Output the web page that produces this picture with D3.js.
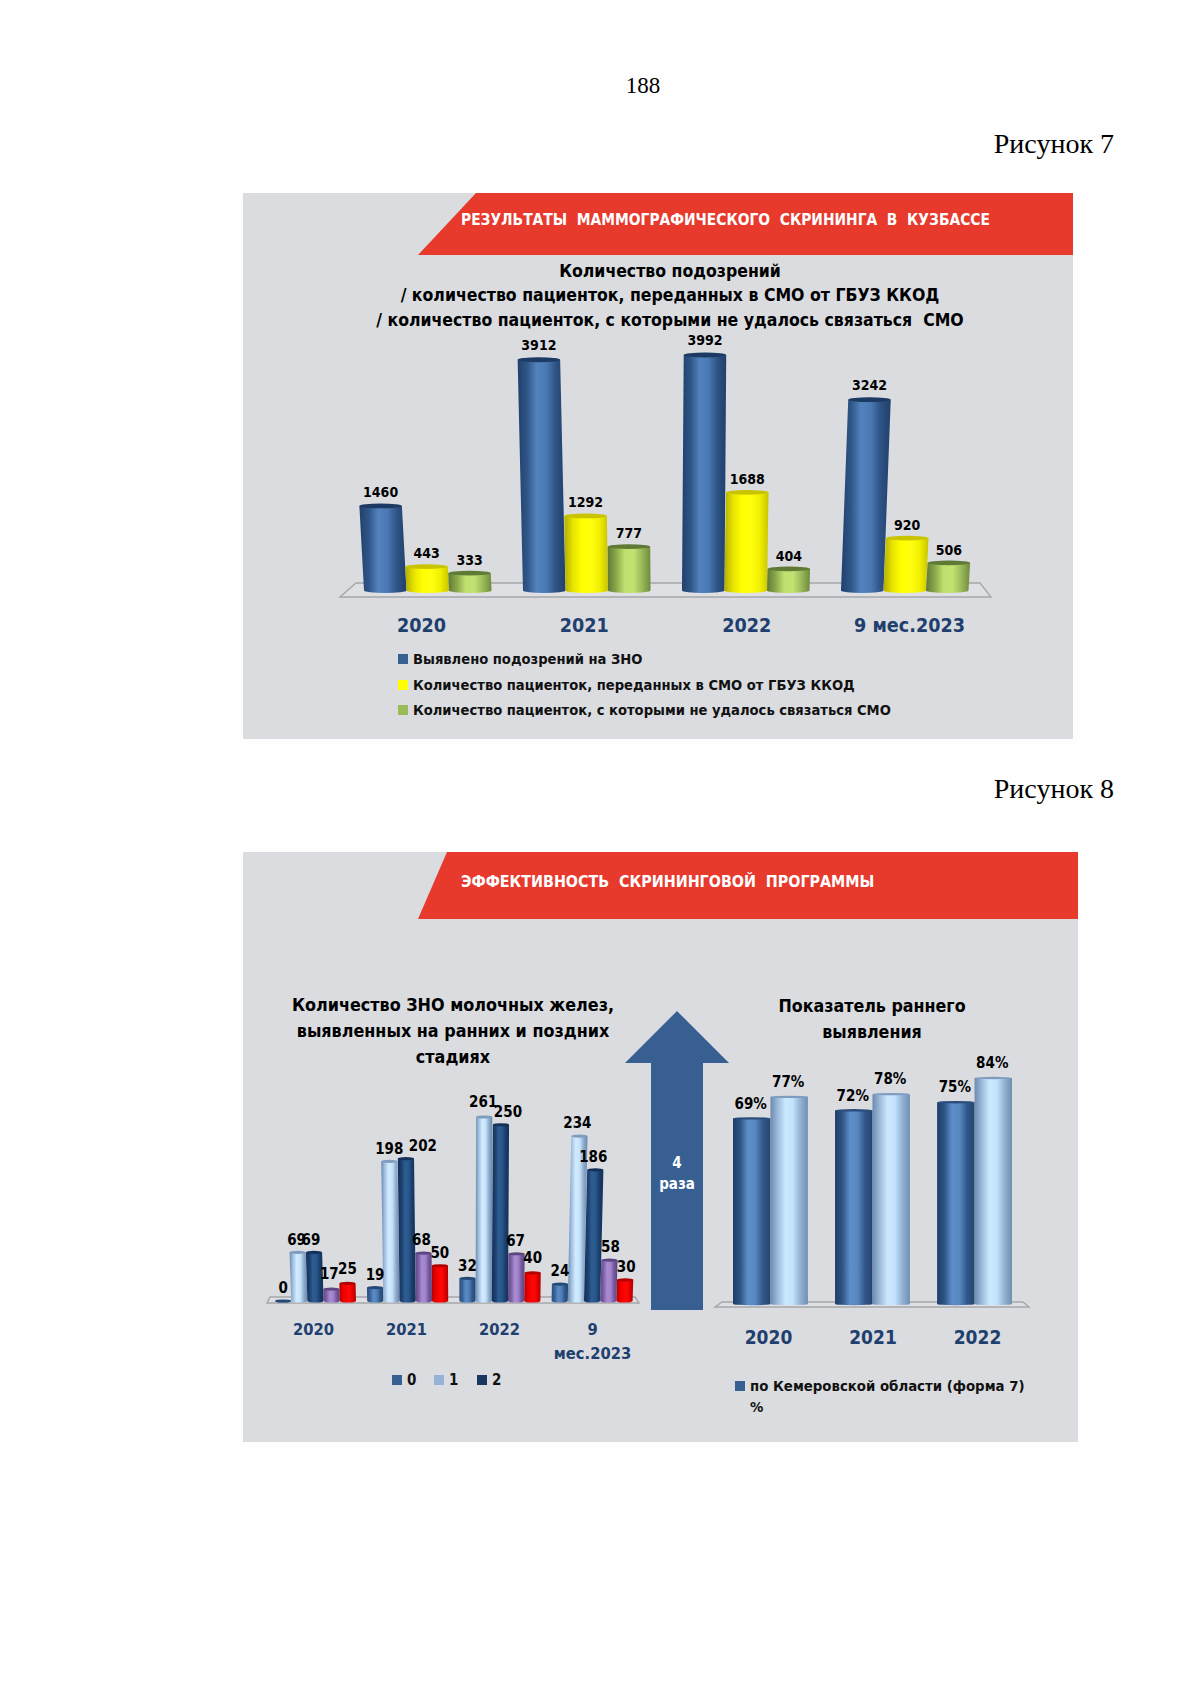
<!DOCTYPE html>
<html><head><meta charset="utf-8">
<script src="https://d3js.org/d3.v7.min.js"></script>
<style>html,body{margin:0;padding:0;background:#fefefe}svg{display:block}
.b{font-family:"DejaVu Sans Condensed","DejaVu Sans",sans-serif;font-stretch:condensed;font-weight:700}
.p{font-family:"Liberation Serif",serif}</style></head><body>
<svg id="s" width="1200" height="1697"></svg>
<script>
// ---- data ----
const catsA = ["2020","2021","2022","9 мес.2023"];
const suspected = [1460,3912,3992,3242];
const transferred = [443,1292,1688,920];
const unreached = [333,777,404,506];
const legendA = ["Выявлено подозрений на ЗНО","Количество пациенток, переданных в СМО от ГБУЗ ККОД","Количество пациенток, с которыми не удалось связаться СМО"];
const titleA = ["Количество подозрений","/ количество пациенток, переданных в СМО от ГБУЗ ККОД","/ количество пациенток, с которыми не удалось связаться  СМО"];

const stage0 = [0,19,32,24];
const stage1 = [69,198,261,234];
const stage2 = [69,202,250,186];
const stage3 = [17,68,67,58];
const stage4 = [25,50,40,30];
const legendB = ["0","1","2"];
const titleB = ["Количество ЗНО молочных желез,","выявленных на ранних и поздних","стадиях"];

const catsC = ["2020","2021","2022"];
const regional = [69,72,75];
const regionalPct = [77,78,84];
const titleC = ["Показатель раннего","выявления"];
const legendC = ["по Кемеровской области (форма 7)","%"];

// ---- helpers ----
const svg = d3.select("#s"), defs = svg.append("defs");
function grad(id, stops){
  const g = defs.append("linearGradient").attr("id",id).attr("x1",0).attr("x2",1).attr("y1",0).attr("y2",0);
  stops.forEach((c,i)=>g.append("stop").attr("offset",i/(stops.length-1)).attr("stop-color",c));
}
grad("gBlue",["#21406d","#2f5687","#5382bd","#4a78b2","#2d5284","#21406b"]);
grad("gYel",["#b3ad00","#e8e400","#ffff00","#ffff10","#f2ef00","#c9c400"]);
grad("gGrn",["#5f7a35","#8aa84a","#bfe06e","#c2e372","#9bb95a","#6e8a3c"]);
grad("gB0",["#2a4d7c","#3a659a","#5c8cc6","#4f7fb8","#30588a","#264772"]);
grad("gB1",["#6e8cb0","#a3c1e2","#d2ebff","#c6e3fb","#8faccd","#6a87aa"]);
grad("gB2",["#12305a","#1c3f6d","#2d5d93","#28578b","#1a3c69","#122f58"]);
grad("gB3",["#5c4681","#7e61a5","#a98bd2","#a184c9","#7558a0","#59437c"]);
grad("gB4",["#b00000","#e40000","#ff0000","#ff0808","#e00000","#b00000"]);
grad("gC0",["#1f3c67","#2f5586","#5e8ec8","#5887c0","#31578a","#25456f"]);
grad("gC1",["#6b8aae","#9dbbdc","#cbe8ff","#c3e2fc","#93b1d3","#6f8eb2"]);

function panel(x,y,w,h,bY,tx0,bx0,label){
  svg.append("rect").attr("x",x).attr("y",y).attr("width",w).attr("height",h).attr("fill","#dadce0");
  svg.append("path").attr("d",`M${tx0},${y}L${x+w},${y}L${x+w},${bY}L${bx0},${bY}Z`).attr("fill","#e8392d");
  svg.append("text").attr("class","b").attr("x",461).attr("y",(y+bY)/2-4).attr("dy","0.35em")
    .attr("fill","#fff").attr("font-size",label.size).attr("xml:space","preserve").text(label.text);
}
function lines(arr,cx,ys,size,fill="#000"){
  arr.forEach((t,i)=>svg.append("text").attr("class","b").attr("x",cx).attr("y",ys[i]).attr("dy","0.35em")
    .attr("text-anchor","middle").attr("fill",fill).attr("font-size",size).attr("xml:space","preserve").text(t));
}
function floor(xa,xb,xc,xd,yt,yb){
  svg.append("path").attr("d",`M${xa},${yb}L${xb},${yt}L${xc},${yt}L${xd},${yb}Z`)
   .attr("fill","#dfe0e4").attr("stroke","#a6a7aa").attr("stroke-width",1.4);
}
// cylinder: x = left at the base, w = width, y = top, base = bottom, shift = perspective offset of the top
function cyl(g,x,w,yTop,base,shift,fill,cap,ry){
  const tl=x+shift, tr=x+w+shift;
  g.append("path").attr("d",`M${tl},${yTop}L${x},${base}A${w/2},${ry} 0 0 0 ${x+w},${base}L${tr},${yTop}Z`).attr("fill",`url(#${fill})`);
  g.append("ellipse").attr("cx",(tl+tr)/2).attr("cy",yTop).attr("rx",w/2).attr("ry",ry).attr("fill",cap);
}
function catAxis(scale,y,size){
  const g = svg.append("g").attr("transform",`translate(0,${y})`).call(d3.axisBottom(scale).tickSize(0).tickPadding(0));
  g.select(".domain").remove();
  g.selectAll("text").attr("class","b").attr("fill","#1f3f6e").attr("font-size",size).attr("font-weight",700)
    .style("font-family",'"DejaVu Sans Condensed","DejaVu Sans",sans-serif').attr("y",0).attr("dy","0.35em");
  return g;
}
function legendItem(col,x,y,s,tx,text,size){
  if(col) svg.append("rect").attr("x",x).attr("y",y-s/2).attr("width",s).attr("height",s).attr("fill",col);
  svg.append("text").attr("class","b").attr("x",tx).attr("y",y).attr("dy","0.35em").attr("font-size",size).attr("fill","#111").text(text);
}
function dataLabel(x,y,t,size){
  svg.append("text").attr("class","b").attr("x",x).attr("y",y).attr("dy","0.35em").attr("text-anchor","middle")
    .attr("font-size",size).attr("fill","#000").text(t);
}

// ---- page ----
svg.append("text").attr("class","p").attr("x",643).attr("y",93).attr("text-anchor","middle").attr("font-size",23).attr("fill","#000").text("188");
[["Рисунок 7",153],["Рисунок 8",798]].forEach(d=>svg.append("text").attr("class","p").attr("x",1114).attr("y",d[1]).attr("text-anchor","end").attr("font-size",28).attr("fill","#000").text(d[0]));

// ---- figure 7 ----
panel(243,193,830,546,255,476,418,{text:"РЕЗУЛЬТАТЫ  МАММОГРАФИЧЕСКОГО  СКРИНИНГА  В  КУЗБАССЕ",size:15.4});
lines(titleA,670,[271,295,320],17.5);
floor(340,356,980,991,583,597);
{
  const seriesA=[suspected,transferred,unreached], fills=["gBlue","gYel","gGrn"], caps=["#1d3a63","#c9c400","#5f7a35"], legCols=["#376092","#ffff00","#9bbb59"];
  const x0=d3.scaleBand().domain(catsA).range([364,968.5]).paddingInner(0.198);
  const x1=d3.scaleBand().domain(d3.range(3)).range([0,x0.bandwidth()]);
  const y=d3.scaleLinear().domain([0,3992]).range([593,355]);
  const ry=2.4;
  const g=svg.append("g");
  catsA.forEach((c,i)=>seriesA.forEach((vals,s)=>{
    const bx=x0(c)+x1(s), v=vals[i], top=y(v), h=593-top, shift=(bx+x1.bandwidth()/2-665)*h*0.00019;
    cyl(g,bx,x1.bandwidth(),top,593-ry,shift,fills[s],caps[s],ry);
    dataLabel(bx+x1.bandwidth()/2+shift,top-13-h*0.006,v,14);
  }));
  catAxis(d3.scalePoint().domain(catsA).range([421,909]),625,19.6);
  legendA.forEach((t,i)=>legendItem(legCols[i],398,[659,685,710][i],10,413,t,14.6));
}

// ---- figure 8 ----
panel(243,852,835,590,919,447,418,{text:"ЭФФЕКТИВНОСТЬ  СКРИНИНГОВОЙ  ПРОГРАММЫ",size:15.9});
lines(titleB,453,[1005,1031,1057],17.8);
floor(267,270,635,639,1297,1303);
{
  const seriesB=[stage0,stage1,stage2,stage3,stage4];
  const fills=["gB0","gB1","gB2","gB3","gB4"], caps=["#264a78","#7f9cbf","#12305a","#5c4681","#b00000"], legCols=["#376092","#95b3d7","#17375e"];
  const x0=d3.scaleBand().domain(catsA).range([275,275+3*92.2+81]).paddingInner(1-81/92.2);
  const x1=d3.scaleBand().domain(d3.range(5)).range([0,x0.bandwidth()]);
  const y=d3.scaleLinear().domain([0,261]).range([1301,1117]);
  // label offsets [dx,dy] that the original applied to the crowded labels
  const nudge={"1-2":[17,0],"2-2":[7,0],"3-2":[-2,0],"0-1":[-1,0],"0-2":[-3,0],"0-3":[-2,-2],"0-4":[0,-2],"2-1":[-1,-2],"3-1":[-2,0],"1-3":[-2,0],"2-3":[-1,0],"3-3":[1,0],"2-4":[0,-2],"3-4":[1,0]};
  const g=svg.append("g");
  catsA.forEach((c,i)=>seriesB.forEach((vals,s)=>{
    const bx=x0(c)+x1(s), v=vals[i], top=y(v), h=1301-top, shift=(bx+8-470)*h*0.0002;
    cyl(g,bx,x1.bandwidth(),top,1301,shift,fills[s],caps[s],1.6);
    const n=nudge[i+"-"+s]||[0,0];
    dataLabel(bx+x1.bandwidth()/2+shift+n[0],top-13+n[1],v,15);
  }));
  const ax=catAxis(d3.scalePoint().domain(catsA).range([313,592]),1329,16.4);
  ax.selectAll("text").filter(d=>d==="9 мес.2023").each(function(d){
    const t=d3.select(this), parts=d.split(" "); t.text(null);
    t.append("tspan").attr("x",0).attr("dy","0.35em").text(parts[0]);
    t.append("tspan").attr("x",0).attr("dy",24).text(parts[1]);
  });
  [[392,407],[434,449],[477,492]].forEach((p,i)=>legendItem(legCols[i],p[0],1380,10,p[1],legendB[i],15));
}
// arrow
{
  const ag=d3.line()([[677,1011],[729,1063],[703,1063],[703,1310],[651,1310],[651,1063],[625,1063]])+"Z";
  svg.append("path").attr("d",ag).attr("fill","#375f91");
  lines(["4","раза"],677,[1163,1184],15,"#fff");
}
lines(titleC,872,[1006,1032],17.7);
floor(715,722,1023,1029,1302,1307);
{
  const seriesC=[regional,regionalPct], fills=["gC0","gC1"], caps=["#2a4c7b","#7f9cc0"];
  const x0=d3.scaleBand().domain(catsC).range([733,1012]).paddingInner(1-75/102.2);
  const x1=d3.scaleBand().domain(d3.range(2)).range([0,x0.bandwidth()]);
  const y=d3.scaleLinear().domain([0,84]).range([1304,1078]);
  const g=svg.append("g");
  catsC.forEach((c,i)=>seriesC.forEach((vals,s)=>{
    const bx=x0(c)+x1(s), v=vals[i], top=y(v);
    cyl(g,bx,x1.bandwidth(),top,1304,0,fills[s],caps[s],1.2);
    dataLabel(bx+x1.bandwidth()/2-1,top-15,v+"%",15);
  }));
  catAxis(d3.scalePoint().domain(catsC).range([768,977]),1337,19);
  legendItem("#376092",735,1386,10,750,legendC[0],14.8);
  legendItem(null,0,1407,0,750,legendC[1],14.8);
}
</script></body></html>
